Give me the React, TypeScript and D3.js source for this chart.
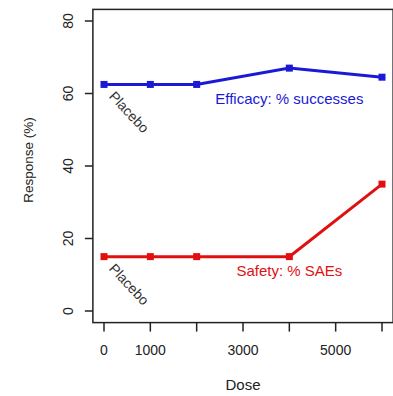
import React from "react";
import * as d3 from "d3";

const doses = [0, 1000, 2000, 4000, 6000];
const efficacy = [62.5, 62.5, 62.5, 67, 64.5];
const safety = [15, 15, 15, 15, 35];
const xTicks = [0, 1000, 2000, 3000, 4000, 5000, 6000];
const xTickLabels = ["0", "1000", "", "3000", "", "5000", ""];
const yTicks = [0, 20, 40, 60, 80];

const W = 393;
const H = 396;
const font = "'Liberation Sans', Arial, sans-serif";

const App = () => {
  const x = d3.scaleLinear().domain([0, 6000]).range([104, 382]);
  const y = d3.scaleLinear().domain([0, 80]).range([311, 21]);

  // R style: usr extends 4% past the data range
  const left = x(-240), right = x(6240);
  const top = y(83.2), bottom = y(-3.2);
  const midX = (left + right) / 2;

  const line = d3.line<number>()
    .x((d, i) => x(doses[i]))
    .y((d) => y(d));

  const series = [
    { values: efficacy, color: "#1a1ad6", label: "Efficacy: % successes", ly: 100 },
    { values: safety, color: "#e01010", label: "Safety: % SAEs", ly: 272 },
  ];

  return (
    <svg width={W} height={H} style={{ position: "absolute", left: 0, top: 0, background: "#fff" }}>
      <rect x={left} y={top} width={right - left} height={bottom - top} fill="none" stroke="#222" strokeWidth={1.5} />

      {/* y axis */}
      {yTicks.map((t) => (
        <g key={"y" + t}>
          <line x1={left - 8} x2={left} y1={y(t)} y2={y(t)} stroke="#222" strokeWidth={1.5} />
          <text transform={`translate(${left - 20},${y(t)}) rotate(-90)`} textAnchor="middle"
            fontFamily={font} fontSize={14} fill="#222">{t}</text>
        </g>
      ))}
      <text transform={`translate(33,160) rotate(-90)`} textAnchor="middle"
        fontFamily={font} fontSize={13.5} fill="#222">Response (%)</text>

      {/* x axis */}
      {xTicks.map((t, i) => (
        <g key={"x" + t}>
          <line x1={x(t)} x2={x(t)} y1={bottom} y2={bottom + 9} stroke="#222" strokeWidth={1.5} />
          <text x={x(t)} y={355} textAnchor="middle" fontFamily={font} fontSize={14} fill="#222">
            {xTickLabels[i]}
          </text>
        </g>
      ))}
      <text x={midX} y={390} textAnchor="middle" fontFamily={font} fontSize={15} fill="#222">Dose</text>

      {series.map((s) => (
        <g key={s.label}>
          <path d={line(s.values) || ""} fill="none" stroke={s.color} strokeWidth={3} />
          {s.values.map((v, i) => (
            <rect key={i} x={x(doses[i]) - 3.5} y={y(v) - 3.5} width={7} height={7} fill={s.color} />
          ))}
          <text x={x(4000)} y={s.ly} textAnchor="middle" dominantBaseline="middle"
            fontFamily={font} fontSize={15} fill={s.color}>{s.label}</text>
          <text transform={`translate(${x(0) + 7},${y(s.values[0]) + 10}) rotate(47)`}
            fontFamily={font} fontSize={14} fill="#333" dominantBaseline="middle">Placebo</text>
        </g>
      ))}
    </svg>
  );
};

export default App;
